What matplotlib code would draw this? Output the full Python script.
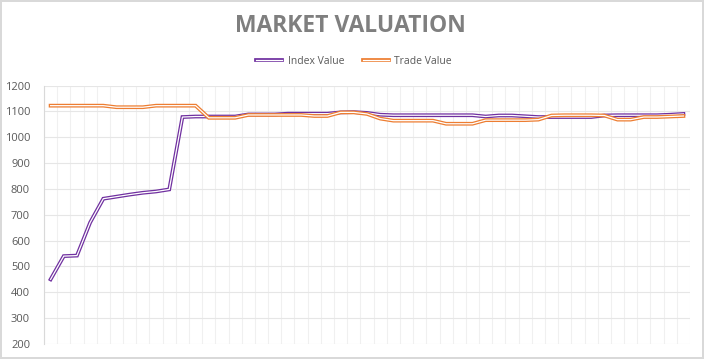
import matplotlib.pyplot as plt
import matplotlib.patheffects as pe
import numpy as np

index_value = [450, 540, 542, 670, 762, 770, 778, 785, 790, 798,
               1078, 1080, 1080, 1080, 1080, 1088, 1088, 1088, 1091, 1091,
               1091, 1091, 1096, 1097, 1094, 1087, 1085, 1085, 1085, 1085,
               1085, 1085, 1085, 1080, 1084, 1084, 1081, 1078, 1078, 1078,
               1078, 1078, 1084, 1085, 1085, 1085, 1085, 1087, 1090]
trade_value = [1122, 1122, 1122, 1122, 1122, 1116, 1116, 1116, 1122, 1122,
               1122, 1122, 1075, 1075, 1075, 1086, 1086, 1086, 1086, 1086,
               1082, 1082, 1096, 1096, 1090, 1072, 1064, 1064, 1064, 1064,
               1052, 1052, 1052, 1066, 1066, 1066, 1066, 1068, 1084, 1085,
               1085, 1085, 1084, 1068, 1068, 1078, 1078, 1080, 1082]
series_names = ['Index Value', 'Trade Value']
colors = ['#7030A0', '#ED7D31']

plt.rcParams['font.family'] = ['Open Sans', 'DejaVu Sans']

fig = plt.figure(figsize=(7.04, 3.59), dpi=100)
fig.patch.set_edgecolor('#D9D9D9')
fig.patch.set_linewidth(1.5)
ax = fig.add_axes([44 / 704, 1 - 344 / 359, 646 / 704, (344 - 85.5) / 359])

x = np.arange(len(index_value))
for vals, name, c in zip([index_value, trade_value], series_names, colors):
    ax.plot(x, vals, color='white', lw=0.9, label=name, solid_joinstyle='miter',
            path_effects=[pe.Stroke(linewidth=2.7, foreground=c), pe.Normal()])

ax.set_xlim(-0.5, len(x) - 0.5)
ax.set_ylim(200, 1200)
ax.set_yticks(range(200, 1201, 100))
ax.set_xticks(np.arange(-0.5, len(x), 1))
ax.set_xticklabels([])
ax.tick_params(axis='x', length=0)
ax.tick_params(axis='y', length=0, labelsize=8, labelcolor='#595959', pad=10)
ax.grid(axis='y', color='#E6E6E6', lw=0.8)
ax.grid(axis='x', color='#F0F0F0', lw=0.8)
ax.set_axisbelow(True)
for s in ['top', 'right', 'bottom']:
    ax.spines[s].set_visible(False)
ax.spines['left'].set_color('#D9D9D9')

fig.text(0.497, 1 - 26 / 359, 'MARKET VALUATION', ha='center', va='center',
         fontsize=16.5, fontweight='bold', color='#7F7F7F')
fig.legend(loc='center', bbox_to_anchor=(354 / 704, 1 - 61 / 359), ncol=2, frameon=False,
           fontsize=7.5, labelcolor='#595959', handlelength=2.5, handletextpad=0.5,
           columnspacing=1.8)

fig.savefig('out.png', dpi=100)
